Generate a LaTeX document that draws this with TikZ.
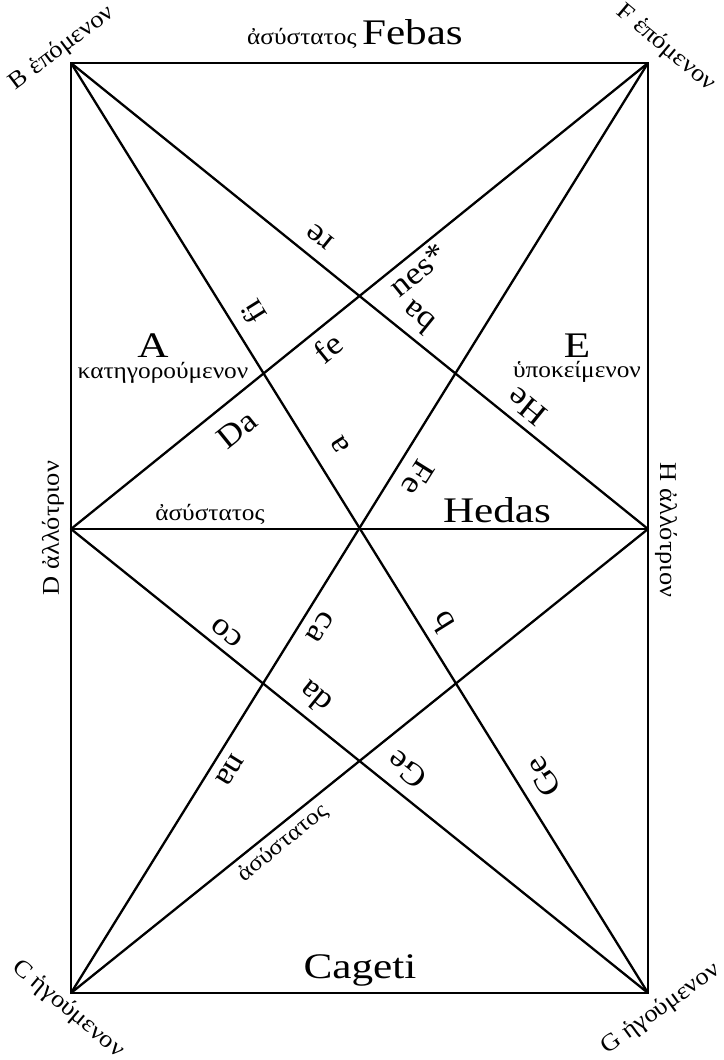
\documentclass[tikz,border=0pt]{standalone}
\usepackage{fontspec}
\setmainfont[FakeStretch=1.1]{Liberation Serif}
\newfontfamily\widefont[FakeStretch=1.2]{Liberation Serif}
\usepackage{tikz}
\tikzset{
  ln/.style={line width=1.15pt,line cap=round},
  frm/.style={line width=1.45pt,line join=miter},
  syl/.style={inner sep=0pt,font=\fontsize{16}{16}\selectfont},
  bigl/.style={inner sep=0pt,font=\widefont\fontsize{18}{18}\selectfont},
  grk/.style={inner sep=0pt,font=\fontsize{11.5}{11.5}\selectfont},
  crn/.style={inner sep=0pt,font=\fontsize{12}{12}\selectfont}
}

\begin{document}
\begin{tikzpicture}[x=0.5pt,y=-0.5pt]
\useasboundingbox (0,0) rectangle (723,1060);
% corners
\coordinate (B) at (71,63);
\coordinate (F) at (648,63);
\coordinate (D) at (71,529);
\coordinate (H) at (648,529);
\coordinate (C) at (71,993);
\coordinate (G) at (648,993);
\draw[frm] (B) -- (F) -- (G) -- (C) -- cycle;
\foreach \p/\q in {D/H,B/G,F/C,D/F,D/G,B/H,C/H}
  \draw[ln] (\p) -- (\q);
% syllables along the lines
\foreach \nm/\x/\y/\r/\t in {re/320/237/141/re,fi/253/312/122/fi,fe/328/348/39/fe,
  Da/237/430/39/Da,a/340/445/122/a,nes/418/270/39/nes*,ba/418/318/141/ba,
  He/527/407/141/He,Fe/418/478/-122/Fe,ca/320/627/-122/ca,co/227/633/141/co,
  da/315/698/141/da,b/443/622/122/b,na/230/770/-122/na,geA/407/770/141/Ge,
  geB/543/777/122/Ge}
  \node[syl,rotate=\r] (\nm) at (\x,\y) {\t};
% names of the sides
\node[anchor=base] (top) at (355,44) {{\fontsize{11.5}{11.5}\selectfont ἀσύστατος} {\widefont\fontsize{18}{18}\selectfont Febas}};
\node[bigl,anchor=base] (hedas) at (497,522) {Hedas};
\node[grk,anchor=base] (asy) at (210,520) {ἀσύστατος};
\node[bigl,anchor=base] (cageti) at (360,978) {Cageti};
\node[grk,rotate=39] (asyb) at (283,843) {ἀσύστατος};
\node[bigl,anchor=base] (A) at (153,357) {A};
\node[grk,anchor=base] (kat) at (163,378) {κατηγορούμενον};
\node[bigl,anchor=base] (E) at (577,357) {E};
\node[grk,anchor=base] (hyp) at (577,377) {ὑποκείμενον};
% corner labels
\node[crn,rotate=37] (lB) at (62,48) {B ἑπόμενον};
\node[crn,rotate=-40] (lF) at (666,48) {F ἑπόμενον};
\node[crn,rotate=90] (lD) at (53,528) {D ἀλλότριον};
\node[crn,rotate=-90] (lH) at (666,530) {H ἀλλότριον};
\node[crn,rotate=-40] (lC) at (68,1009) {C ἡγούμενον};
\node[crn,rotate=36] (lG) at (661,1009) {G ἡγούμενον};
\end{tikzpicture}
\end{document}
